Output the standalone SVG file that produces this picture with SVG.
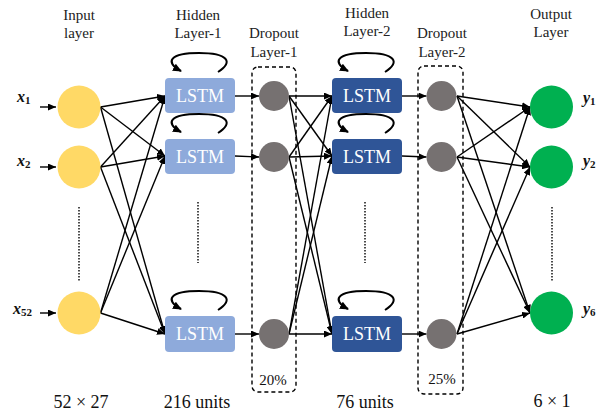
<svg xmlns="http://www.w3.org/2000/svg" width="611" height="416" viewBox="0 0 611 416">
<defs>
<style>
.hdr{font-family:"Liberation Serif","Times New Roman",serif;font-size:15px;fill:#222;text-anchor:middle}
.bot{font-family:"Liberation Serif","Times New Roman",serif;font-size:18px;fill:#111;text-anchor:middle}
.pct{font-family:"Liberation Serif","Times New Roman",serif;font-size:15px;fill:#111;text-anchor:middle}
.var{font-family:"Liberation Serif","Times New Roman",serif;font-size:16px;font-weight:bold;font-style:italic;fill:#111}
.sub{font-size:11px;font-style:normal;font-weight:bold}
.lstmt{font-family:"Liberation Serif","Times New Roman",serif;font-size:18px;fill:#fff;text-anchor:middle}
.inp{fill:#FFD966}
.l1{fill:#8EAADB}
.l2{fill:#2F5597}
.drp{fill:#767171}
.out{fill:#00B050}
.cn{stroke:#000;stroke-width:1.4;fill:none}
.loop{stroke:#000;stroke-width:2;fill:none}
.dash{stroke:#000;stroke-width:1.4;fill:none;stroke-dasharray:4 3}
.dot{stroke:#000;stroke-width:1.4;fill:none;stroke-dasharray:1.5 1.5}
</style>
<marker id="ah" markerUnits="userSpaceOnUse" markerWidth="8" markerHeight="7" refX="8" refY="3.5" orient="auto">
<path d="M0,0 L8,3.5 L0,7 z" fill="#000"/>
</marker>
<marker id="lh" markerUnits="userSpaceOnUse" markerWidth="9" markerHeight="8" refX="8" refY="4" orient="auto">
<path d="M0,0 L9,4 L0,8 z" fill="#000"/>
</marker>
</defs>
<rect width="611" height="416" fill="#fff"/>

<g id="headers">
<text class="hdr" x="79" y="20">Input</text>
<text class="hdr" x="79" y="38">layer</text>
<text class="hdr" x="198" y="20">Hidden</text>
<text class="hdr" x="198" y="38">Layer-1</text>
<text class="hdr" x="274" y="38">Dropout</text>
<text class="hdr" x="274" y="57">Layer-1</text>
<text class="hdr" x="367" y="18">Hidden</text>
<text class="hdr" x="367" y="36">Layer-2</text>
<text class="hdr" x="442" y="38">Dropout</text>
<text class="hdr" x="442" y="57">Layer-2</text>
<text class="hdr" x="551" y="19">Output</text>
<text class="hdr" x="551" y="37">Layer</text>
</g>

<g id="dropout-box-1"><rect class="dash" x="252" y="67" width="44" height="325" rx="6"/><text class="pct" x="273" y="385">20%</text></g>
<g id="dropout-box-2"><rect class="dash" x="418" y="66" width="45" height="328" rx="6"/><text class="pct" x="442" y="384">25%</text></g>

<g id="connectors">
<!-- input label arrows -->
<line class="cn" x1="40" y1="107" x2="56" y2="107" marker-end="url(#ah)"/>
<line class="cn" x1="40" y1="167" x2="56" y2="167" marker-end="url(#ah)"/>
<line class="cn" x1="40" y1="313" x2="56" y2="313" marker-end="url(#ah)"/>
<!-- input to LSTM1 -->
<line class="cn" x1="100.5" y1="107" x2="165" y2="96" marker-end="url(#ah)"/>
<line class="cn" x1="100.5" y1="107" x2="165" y2="156" marker-end="url(#ah)"/>
<line class="cn" x1="100.5" y1="107" x2="165" y2="334" marker-end="url(#ah)"/>
<line class="cn" x1="100.5" y1="167" x2="165" y2="96" marker-end="url(#ah)"/>
<line class="cn" x1="100.5" y1="167" x2="165" y2="156" marker-end="url(#ah)"/>
<line class="cn" x1="100.5" y1="167" x2="165" y2="334" marker-end="url(#ah)"/>
<line class="cn" x1="100.5" y1="313" x2="165" y2="96" marker-end="url(#ah)"/>
<line class="cn" x1="100.5" y1="313" x2="165" y2="156" marker-end="url(#ah)"/>
<line class="cn" x1="100.5" y1="313" x2="165" y2="334" marker-end="url(#ah)"/>
<!-- LSTM1 to dropout1 -->
<line class="cn" x1="235" y1="96" x2="259" y2="96" marker-end="url(#ah)"/>
<line class="cn" x1="235" y1="156" x2="259" y2="157" marker-end="url(#ah)"/>
<line class="cn" x1="235" y1="334" x2="259" y2="334" marker-end="url(#ah)"/>
<!-- dropout1 to LSTM2 -->
<line class="cn" x1="289" y1="96" x2="332" y2="96" marker-end="url(#ah)"/>
<line class="cn" x1="289" y1="96" x2="332" y2="156" marker-end="url(#ah)"/>
<line class="cn" x1="289" y1="96" x2="332" y2="334" marker-end="url(#ah)"/>
<line class="cn" x1="289" y1="157" x2="332" y2="96" marker-end="url(#ah)"/>
<line class="cn" x1="289" y1="157" x2="332" y2="156" marker-end="url(#ah)"/>
<line class="cn" x1="289" y1="157" x2="332" y2="334" marker-end="url(#ah)"/>
<line class="cn" x1="289" y1="334" x2="332" y2="96" marker-end="url(#ah)"/>
<line class="cn" x1="289" y1="334" x2="332" y2="156" marker-end="url(#ah)"/>
<line class="cn" x1="289" y1="334" x2="332" y2="334" marker-end="url(#ah)"/>
<!-- LSTM2 to dropout2 -->
<line class="cn" x1="402" y1="96" x2="426.5" y2="96" marker-end="url(#ah)"/>
<line class="cn" x1="402" y1="156" x2="426.5" y2="157" marker-end="url(#ah)"/>
<line class="cn" x1="402" y1="334" x2="426.5" y2="334" marker-end="url(#ah)"/>
<!-- dropout2 to output -->
<line class="cn" x1="457" y1="96" x2="530" y2="107" marker-end="url(#ah)"/>
<line class="cn" x1="457" y1="96" x2="530" y2="167" marker-end="url(#ah)"/>
<line class="cn" x1="457" y1="96" x2="530" y2="313" marker-end="url(#ah)"/>
<line class="cn" x1="457" y1="157" x2="530" y2="107" marker-end="url(#ah)"/>
<line class="cn" x1="457" y1="157" x2="530" y2="167" marker-end="url(#ah)"/>
<line class="cn" x1="457" y1="157" x2="530" y2="313" marker-end="url(#ah)"/>
<line class="cn" x1="457" y1="334" x2="530" y2="107" marker-end="url(#ah)"/>
<line class="cn" x1="457" y1="334" x2="530" y2="167" marker-end="url(#ah)"/>
<line class="cn" x1="457" y1="334" x2="530" y2="313" marker-end="url(#ah)"/>
<!-- recurrent loops -->
<path class="loop" d="M218 72 C234 62 228 53 199 53 C170 53 164 62 181 71" marker-end="url(#lh)"/>
<path class="loop" d="M218 133 C234 123 228 114 199 114 C170 114 164 123 181 132" marker-end="url(#lh)"/>
<path class="loop" d="M218 310 C234 300 228 291 199 291 C170 291 164 300 181 309" marker-end="url(#lh)"/>
<path class="loop" d="M385 72 C401 62 395 53 366 53 C337 53 331 62 348 71" marker-end="url(#lh)"/>
<path class="loop" d="M385 133 C401 123 395 114 366 114 C337 114 331 123 348 132" marker-end="url(#lh)"/>
<path class="loop" d="M385 310 C401 300 395 291 366 291 C337 291 331 300 348 309" marker-end="url(#lh)"/>
<!-- ellipsis dotted lines -->
<line class="dot" x1="79" y1="207" x2="79" y2="282"/>
<line class="dot" x1="198" y1="202" x2="198" y2="263"/>
<line class="dot" x1="365" y1="202" x2="365" y2="263"/>
<line class="dot" x1="552" y1="207" x2="552" y2="282"/>
</g>

<g id="in1"><circle class="inp" cx="79" cy="107" r="21.5"/><text class="var" x="17" y="102">x<tspan class="sub" dy="2">1</tspan></text></g>
<g id="in2"><circle class="inp" cx="79" cy="167" r="21.5"/><text class="var" x="17" y="166">x<tspan class="sub" dy="2">2</tspan></text></g>
<g id="in52"><circle class="inp" cx="79" cy="313" r="21.5"/><text class="var" x="13" y="314">x<tspan class="sub" dy="2">52</tspan></text></g>

<g id="lstm1a"><rect class="l1" x="165" y="78" width="70" height="35" rx="4"/><text class="lstmt" x="200" y="102">LSTM</text></g>
<g id="lstm1b"><rect class="l1" x="165" y="139" width="70" height="35" rx="4"/><text class="lstmt" x="200" y="163">LSTM</text></g>
<g id="lstm1c"><rect class="l1" x="165" y="316" width="70" height="36" rx="4"/><text class="lstmt" x="200" y="340">LSTM</text></g>

<g id="drop1a"><circle class="drp" cx="274" cy="96" r="15"/></g>
<g id="drop1b"><circle class="drp" cx="274" cy="157" r="15"/></g>
<g id="drop1c"><circle class="drp" cx="274" cy="334" r="15"/></g>

<g id="lstm2a"><rect class="l2" x="332" y="78" width="70" height="35" rx="4"/><text class="lstmt" x="367" y="102">LSTM</text></g>
<g id="lstm2b"><rect class="l2" x="332" y="139" width="70" height="35" rx="4"/><text class="lstmt" x="367" y="163">LSTM</text></g>
<g id="lstm2c"><rect class="l2" x="332" y="316" width="70" height="36" rx="4"/><text class="lstmt" x="367" y="340">LSTM</text></g>

<g id="drop2a"><circle class="drp" cx="441.5" cy="96" r="15"/></g>
<g id="drop2b"><circle class="drp" cx="441.5" cy="157" r="15"/></g>
<g id="drop2c"><circle class="drp" cx="441.5" cy="334" r="15"/></g>

<g id="out1"><circle class="out" cx="551.5" cy="107" r="21.5"/><text class="var" x="583" y="103">y<tspan class="sub" dy="2">1</tspan></text></g>
<g id="out2"><circle class="out" cx="551.5" cy="167" r="21.5"/><text class="var" x="583" y="166">y<tspan class="sub" dy="2">2</tspan></text></g>
<g id="out6"><circle class="out" cx="551.5" cy="313" r="21.5"/><text class="var" x="583" y="314">y<tspan class="sub" dy="2">6</tspan></text></g>

<g id="footers">
<text class="bot" x="81" y="408">52 × 27</text>
<text class="bot" x="197" y="408">216 units</text>
<text class="bot" x="365" y="408">76 units</text>
<text class="bot" x="552" y="407">6 × 1</text>
</g>
</svg>
